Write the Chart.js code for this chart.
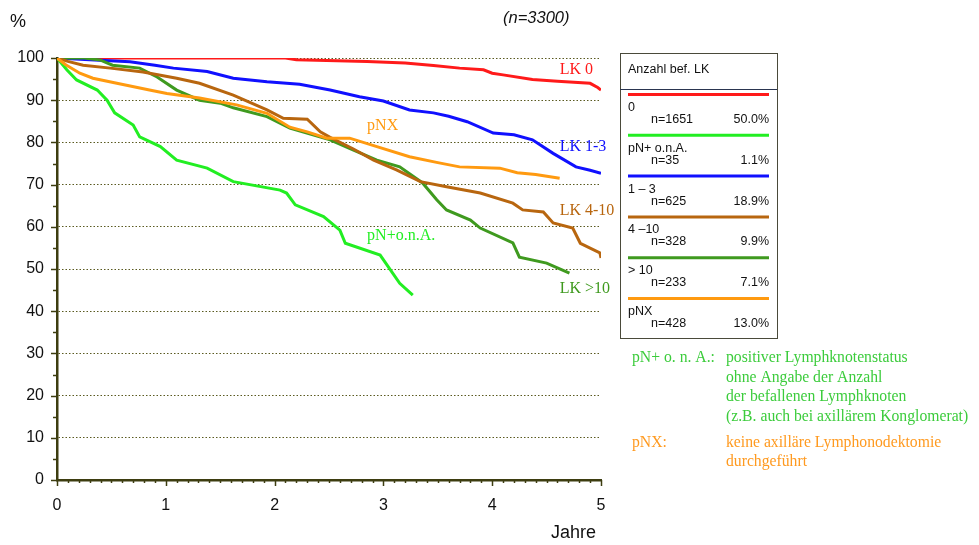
<!DOCTYPE html>
<html>
<head>
<meta charset="utf-8">
<script src="https://cdn.jsdelivr.net/npm/chart.js"></script>
<style>
  body { margin: 0; background: #fff; }
  #wrap { width: 979px; height: 545px; }
</style>
</head>
<body>
<div id="wrap"><canvas id="myChart" width="979" height="545"></canvas></div>
<script>
// achsen
const jahreTicks = [0, 1, 2, 3, 4, 5];
const prozentTicks = [0, 10, 20, 30, 40, 50, 60, 70, 80, 90, 100];

// kurven (jahre / ueberleben in %)
const lk0Jahre = [0, 2.1, 2.2, 2.85, 3.2, 3.46, 3.7, 3.92, 4.0, 4.1, 4.37, 4.6, 4.9, 4.97, 5.0];
const lk0Werte = [100, 100, 99.6, 99.2, 98.8, 98.2, 97.6, 97.2, 96.4, 96.0, 94.9, 94.5, 94.0, 93.0, 92.4];

const lk13Jahre = [0, 0.3, 0.67, 0.9, 1.07, 1.38, 1.62, 1.93, 2.23, 2.51, 2.78, 3.0, 3.24, 3.46, 3.6, 3.77, 4.01, 4.2, 4.37, 4.56, 4.77, 4.9, 5.0];
const lk13Werte = [100, 99.6, 99.1, 98.3, 97.6, 96.8, 95.2, 94.4, 93.8, 92.4, 90.8, 89.8, 87.7, 87.0, 86.2, 84.9, 82.2, 81.8, 80.6, 77.4, 74.2, 73.4, 72.7];

const pnxJahre = [0, 0.08, 0.21, 0.33, 0.55, 0.85, 1.01, 1.31, 1.65, 1.93, 2.14, 2.3, 2.48, 2.69, 2.94, 3.24, 3.5, 3.7, 4.07, 4.23, 4.4, 4.62];
const pnxWerte = [100, 98.4, 96.4, 95.2, 94.0, 92.4, 91.6, 90.5, 88.9, 86.9, 83.6, 82.5, 81.0, 81.0, 79.0, 76.6, 75.2, 74.2, 73.9, 72.8, 72.4, 71.5];

const lk410Jahre = [0, 0.1, 0.24, 0.49, 0.79, 1.1, 1.31, 1.62, 1.93, 2.08, 2.3, 2.42, 2.51, 2.72, 2.91, 3.12, 3.34, 3.58, 3.89, 4.19, 4.28, 4.47, 4.56, 4.74, 4.81, 4.99, 5.0];
const lk410Werte = [100, 99.2, 98.3, 97.6, 96.7, 95.2, 94.0, 91.2, 87.7, 85.7, 85.5, 82.5, 81.2, 78.5, 75.8, 73.5, 70.7, 69.5, 68.0, 65.6, 64.0, 63.5, 60.9, 59.7, 56.1, 53.8, 52.6];

const lk10Jahre = [0, 0.25, 0.4, 0.51, 0.76, 0.92, 1.1, 1.31, 1.5, 1.62, 1.93, 2.14, 2.51, 2.72, 2.94, 3.15, 3.36, 3.49, 3.58, 3.8, 3.89, 4.19, 4.25, 4.5, 4.71];
const lk10Werte = [100, 100, 99.5, 98.3, 97.6, 95.5, 92.4, 90.0, 89.3, 88.2, 86.1, 83.4, 80.6, 78.2, 75.8, 74.2, 70.4, 66.4, 64.0, 61.6, 59.7, 56.2, 52.8, 51.4, 49.0];

const onaJahre = [0, 0.09, 0.18, 0.37, 0.46, 0.53, 0.7, 0.76, 0.95, 1.1, 1.38, 1.62, 2.05, 2.11, 2.19, 2.45, 2.6, 2.65, 2.97, 3.15, 3.27];
const onaWerte = [100, 97.2, 94.8, 92.4, 90.0, 87.0, 84.1, 81.3, 79.0, 75.8, 73.9, 70.7, 68.7, 68.0, 65.2, 62.4, 59.2, 56.1, 53.3, 46.6, 43.8];

// legende
const legendLabels = ["0", "pN+ o.n.A.", "1 \u2013 3", "4 \u201310", "> 10", "pNX"];
const legendN = [1651, 35, 625, 328, 233, 428];
const legendPct = ["50.0%", "1.1%", "18.9%", "9.9%", "7.1%", "13.0%"];
const legendFarben = ["#ff1a1a", "#22ee22", "#1010ff", "#b8660f", "#3f9a1f", "#ff9a10"];

const rot = "#ff1a1a", hellgruen = "#22ee22", blau = "#1010ff", braun = "#b8660f", gruen = "#3f9a1f", orange = "#ff9a10";

function punkte(xs, ys) {
  return xs.map((x, i) => ({ x: x, y: ys[i] }));
}

function linie(label, xs, ys, farbe) {
  return {
    label: label,
    data: punkte(xs, ys),
    borderColor: farbe,
    backgroundColor: farbe,
    borderWidth: 3,
    pointRadius: 0,
    tension: 0,
    fill: false
  };
}

const achsenFarbe = "#3d3d10";

// texte, ticks und legendenkasten
const extras = {
  id: "extras",
  afterDraw(chart) {
    const ctx = chart.ctx;
    const xs = chart.scales.x;
    const ys = chart.scales.y;
    ctx.save();

    // kleine ticks
    ctx.strokeStyle = achsenFarbe;
    ctx.lineWidth = 1.5;
    for (let v = 0; v <= 100; v += 5) {
      const py = Math.round(ys.getPixelForValue(v)) + 0.5;
      const len = v % 10 === 0 ? 6 : 4;
      ctx.beginPath();
      ctx.moveTo(xs.left - len, py);
      ctx.lineTo(xs.left, py);
      ctx.stroke();
    }
    for (let k = 0; k <= 50; k++) {
      const px = Math.round(xs.getPixelForValue(k / 10)) + 0.5;
      const len = k % 10 === 0 ? 6 : 3;
      ctx.beginPath();
      ctx.moveTo(px, ys.bottom);
      ctx.lineTo(px, ys.bottom + len);
      ctx.stroke();
    }

    // achsentitel
    ctx.fillStyle = "#111";
    ctx.font = "18px 'Liberation Sans', Arial, sans-serif";
    ctx.textAlign = "left";
    ctx.textBaseline = "middle";
    ctx.fillText("%", 10, 22);
    ctx.fillText("Jahre", 551, 533);
    ctx.font = "italic 16.5px 'Liberation Sans', Arial, sans-serif";
    ctx.fillText("(n=3300)", 503, 18);

    // kurvenbeschriftungen
    ctx.font = "16px 'Liberation Serif', 'Times New Roman', serif";
    const beschr = [
      ["LK 0", rot, 4.62, 97.2],
      ["LK 1-3", blau, 4.62, 78.9],
      ["pNX", orange, 2.85, 83.9],
      ["LK 4-10", braun, 4.62, 63.7],
      ["pN+o.n.A.", hellgruen, 2.85, 57.8],
      ["LK >10", gruen, 4.62, 45.2]
    ];
    beschr.forEach(b => {
      ctx.fillStyle = b[1];
      ctx.fillText(b[0], xs.getPixelForValue(b[2]), ys.getPixelForValue(b[3]));
    });

    // legendenkasten
    const bx = 620, by = 53, bw = 157, bh = 285;
    ctx.strokeStyle = "#4a4a3a";
    ctx.lineWidth = 1;
    ctx.strokeRect(bx + 0.5, by + 0.5, bw, bh);
    ctx.strokeStyle = "#2a3550";
    ctx.beginPath();
    ctx.moveTo(bx, 89.5);
    ctx.lineTo(bx + bw, 89.5);
    ctx.stroke();
    ctx.fillStyle = "#111";
    ctx.font = "12.5px 'Liberation Sans', Arial, sans-serif";
    ctx.fillText("Anzahl bef. LK", 628, 70);
    legendLabels.forEach((lab, i) => {
      const ly = 94.5 + i * 40.8;
      ctx.strokeStyle = legendFarben[i];
      ctx.lineWidth = 3;
      ctx.beginPath();
      ctx.moveTo(628, ly);
      ctx.lineTo(769, ly);
      ctx.stroke();
      ctx.fillStyle = "#111";
      ctx.textAlign = "left";
      ctx.fillText(lab, 628, ly + 13);
      ctx.fillText("n=" + legendN[i], 651, ly + 25);
      ctx.textAlign = "right";
      ctx.fillText(legendPct[i], 769, ly + 25);
    });

    // fussnoten
    ctx.textAlign = "left";
    ctx.font = "15.7px 'Liberation Serif', 'Times New Roman', serif";
    ctx.fillStyle = "#3ccc3c";
    ctx.fillText("pN+ o. n. A.:", 632, 358);
    ["positiver Lymphknotenstatus", "ohne Angabe der Anzahl", "der befallenen Lymphknoten", "(z.B. auch bei axillärem Konglomerat)"]
      .forEach((t, i) => ctx.fillText(t, 726, 358 + i * 19.5));
    ctx.fillStyle = "#ff9a20";
    ctx.fillText("pNX:", 632, 443);
    ctx.fillText("keine axilläre Lymphonodektomie", 726, 443);
    ctx.fillText("durchgeführt", 726, 462);

    ctx.restore();
  }
};

const ctx = document.getElementById("myChart").getContext("2d");
const myChart = new Chart(ctx, {
  type: "line",
  data: {
    datasets: [
      linie("pNX", pnxJahre, pnxWerte, orange),
      linie("LK 4-10", lk410Jahre, lk410Werte, braun),
      linie("LK >10", lk10Jahre, lk10Werte, gruen),
      linie("pN+ o.n.A.", onaJahre, onaWerte, hellgruen),
      linie("LK 1-3", lk13Jahre, lk13Werte, blau),
      linie("LK 0", lk0Jahre, lk0Werte, rot)
    ]
  },
  options: {
    responsive: false,
    animation: false,
    layout: { padding: { top: 58, right: 378, left: 0, bottom: 0 } },
    plugins: {
      legend: { display: false },
      tooltip: { enabled: false }
    },
    scales: {
      x: {
        type: "linear",
        min: 0,
        max: 5,
        afterBuildTicks: (s) => { s.ticks = jahreTicks.map(v => ({ value: v })); },
        afterFit: (s) => { s.height = 65; },
        grid: { display: false, drawTicks: false },
        border: { display: true, color: achsenFarbe, width: 2.5 },
        ticks: {
          color: "#111",
          padding: 16,
          maxRotation: 0,
          font: { size: 16, family: "'Liberation Sans', Arial, sans-serif" }
        }
      },
      y: {
        min: 0,
        max: 100,
        afterBuildTicks: (s) => { s.ticks = prozentTicks.map(v => ({ value: v })); },
        afterFit: (s) => { s.width = 57; },
        grid: {
          drawTicks: false,
          color: (c) => (c.tick && c.tick.value === 0 ? "rgba(0,0,0,0)" : "#5a5a20"),
          lineWidth: 1
        },
        border: { display: true, color: achsenFarbe, width: 2.5, dash: [1.5, 2] },
        ticks: {
          color: "#111",
          padding: 13,
          font: { size: 16, family: "'Liberation Sans', Arial, sans-serif" }
        }
      }
    }
  },
  plugins: [extras]
});
</script>
</body>
</html>
